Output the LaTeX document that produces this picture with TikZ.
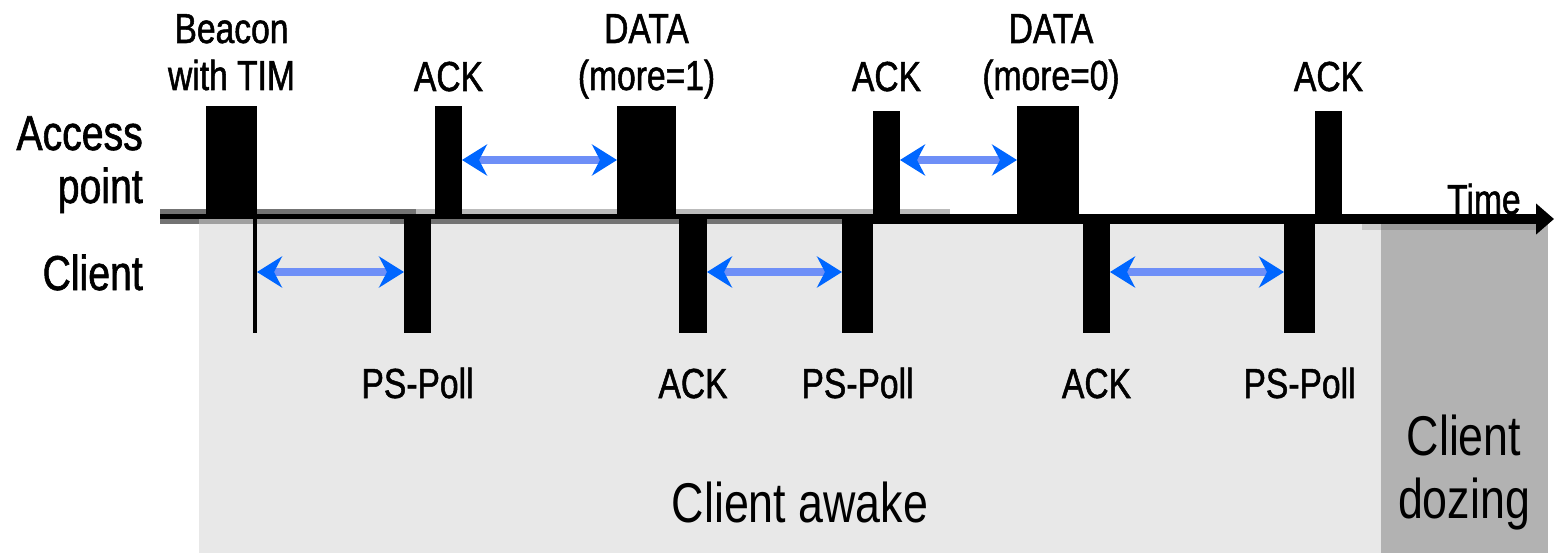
\documentclass[tikz,border=0pt]{standalone}
\usepackage{fontspec}
\setmainfont{Liberation Sans}[FakeStretch=0.8]
\newfontfamily\heavyfont{Liberation Sans}[FakeStretch=0.8,FakeBold=1.2]
\usetikzlibrary{arrows.meta}
\definecolor{awakegray}{HTML}{E8E8E8}
\definecolor{dozegray}{HTML}{B2B2B2}
\definecolor{edgedark}{HTML}{737373}
\definecolor{edgelight}{HTML}{BBBBBB}
\definecolor{edgemid}{HTML}{A0A0A0}
\definecolor{dozeedge}{HTML}{9A9A9A}
\definecolor{dozefade}{HTML}{C8C8C8}
\definecolor{shaftblue}{HTML}{6E8FF7}
\definecolor{headblue}{HTML}{0066FF}
\begin{document}
\begin{tikzpicture}[x=1pt,y=-1pt,
  frame/.style={fill=black,draw=none,inner sep=0pt,outer sep=0pt},
  lbl/.style={font=\heavyfont\fontsize{42}{47}\selectfont,align=center,inner sep=0pt,anchor=base},
  side/.style={font=\heavyfont\fontsize{49}{53}\selectfont,align=right,inner sep=0pt,anchor=base east},
  state/.style={font=\fontsize{56}{63}\selectfont,align=center,inner sep=0pt,anchor=base},
  gap/.style={line width=8pt,draw=shaftblue,
    {Stealth[length=25pt,width=31pt,inset=8pt,color=headblue]}-{Stealth[length=25pt,width=31pt,inset=8pt,color=headblue]}}
]
\fill[white] (0,0) rectangle (1554,553);
\useasboundingbox (0,0) rectangle (1554,553);

% phases of the client
\fill[awakegray] (199,224) rectangle (1381,553);
\fill[dozegray] (1381,224) rectangle (1548,553);
\fill[dozefade] (1362,224) rectangle (1381,230);
\fill[dozeedge] (1381,224) rectangle (1537,230);

% soft edges of the time line
\fill[edgedark] (160,209) rectangle (416,214);
\fill[edgelight] (416,209) rectangle (950,214);
\fill[edgedark] (160,219) rectangle (199,224);
\fill[edgemid] (199,219) rectangle (390,224);
\fill[edgedark] (390,219) rectangle (845,224);

% time line
\coordinate (axisstart) at (160,219);
\coordinate (axismid) at (845,219);
\coordinate (axisend) at (1554,219);
\fill[black] (160,214) rectangle (845,219);
\draw[line width=10pt,-{Triangle[length=18pt,width=30pt]}] (axismid) -- (axisend);

% frames sent by the access point
\node[frame,minimum width=51pt,minimum height=113pt,anchor=south west] (beacon) at (206,219) {};
\node[frame,minimum width=27pt,minimum height=113pt,anchor=south west] (ack1) at (435,219) {};
\node[frame,minimum width=59pt,minimum height=113pt,anchor=south west] (data1) at (617,219) {};
\node[frame,minimum width=27pt,minimum height=108pt,anchor=south west] (ack2) at (873,219) {};
\node[frame,minimum width=62pt,minimum height=113pt,anchor=south west] (data2) at (1017,219) {};
\node[frame,minimum width=27pt,minimum height=108pt,anchor=south west] (ack3) at (1315,219) {};

% frames sent by the client
\node[frame,minimum width=4pt,minimum height=114pt,anchor=north west] (tim) at (253,219) {};
\node[frame,minimum width=27pt,minimum height=117pt,anchor=north west] (ps1) at (404,216) {};
\node[frame,minimum width=28pt,minimum height=117pt,anchor=north west] (cack1) at (679,216) {};
\node[frame,minimum width=31pt,minimum height=117pt,anchor=north west] (ps2) at (842,216) {};
\node[frame,minimum width=27pt,minimum height=117pt,anchor=north west] (cack2) at (1083,216) {};
\node[frame,minimum width=31pt,minimum height=117pt,anchor=north west] (ps3) at (1284,216) {};

% inter-frame gaps
\coordinate (aprow) at (0,160);
\coordinate (clrow) at (0,272);
\draw[gap] (ack1.east |- aprow) -- (data1.west |- aprow);
\draw[gap] (ack2.east |- aprow) -- (data2.west |- aprow);
\draw[gap] (tim.east |- clrow) -- (ps1.west |- clrow);
\draw[gap] (cack1.east |- clrow) -- (ps2.west |- clrow);
\draw[gap] (cack2.east |- clrow) -- (ps3.west |- clrow);

% frame labels (base of a two-line label is its second line)
\coordinate (secondrow) at (0,90);
\coordinate (ackrow) at (0,91);
\coordinate (botrow) at (0,398);
\node[lbl] (beaconlbl) at (beacon.center |- secondrow) {Beacon\\with TIM};
\node[lbl] (ack1lbl) at (ack1.center |- ackrow) {ACK};
\node[lbl] (data1lbl) at (data1.center |- secondrow) {DATA\\(more=1)};
\node[lbl] (ack2lbl) at (ack2.center |- ackrow) {ACK};
\node[lbl] (data2lbl) at ([xshift=3pt]data2.center |- secondrow) {DATA\\(more=0)};
\node[lbl] (ack3lbl) at (ack3.center |- ackrow) {ACK};
\node[lbl] (ps1lbl) at (ps1.center |- botrow) {PS-Poll};
\node[lbl] (cack1lbl) at (cack1.center |- botrow) {ACK};
\node[lbl] (ps2lbl) at (ps2.center |- botrow) {PS-Poll};
\node[lbl] (cack2lbl) at (cack2.center |- botrow) {ACK};
\node[lbl] (ps3lbl) at (ps3.center |- botrow) {PS-Poll};
\node[lbl,anchor=base west] (timelbl) at (1447,214) {Time};

% station names and client states
\node[side] (aplbl) at (143,203) {Access\\point};
\node[side] (clientlbl) at (143,290) {Client};
\node[state] (awakelbl) at (800,522) {Client awake};
\node[state] (dozelbl) at (1464,518) {Client\\dozing};
\end{tikzpicture}
\end{document}
